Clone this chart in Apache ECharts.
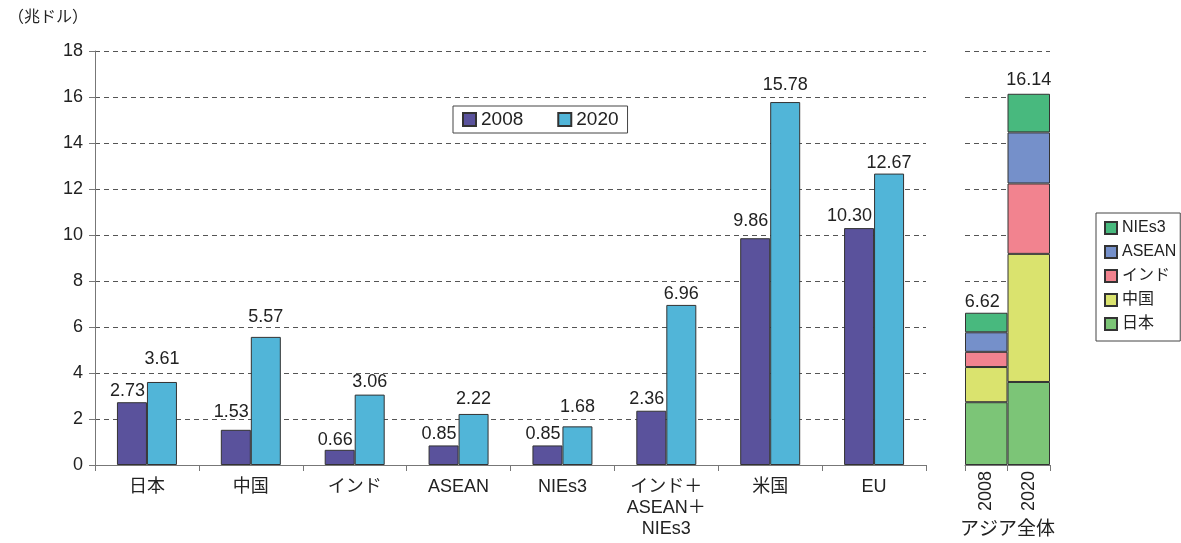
<!DOCTYPE html>
<html><head><meta charset="utf-8">
<script src="https://cdn.jsdelivr.net/npm/echarts@6/dist/echarts.min.js"></script>
<style>html,body{margin:0;padding:0;background:#fff}#c{width:1181px;height:543px}</style>
</head><body><div id="c"></div>
<script>
const categories = ['日本', '中国', 'インド', 'ASEAN', 'NIEs3', 'インド＋\nASEAN＋\nNIEs3', '米国', 'EU'];
const values2008 = [2.73, 1.53, 0.66, 0.85, 0.85, 2.36, 9.86, 10.30];
const values2020 = [3.61, 5.57, 3.06, 2.22, 1.68, 6.96, 15.78, 12.67];
const asiaCategories = ['2008', '2020'];
const asiaJapan = [2.73, 3.61];
const asiaChina = [1.53, 5.57];
const asiaIndia = [0.66, 3.06];
const asiaASEAN = [0.85, 2.22];
const asiaNIEs = [0.85, 1.68];
const asiaTotals = [6.62, 16.14];
const yTicks = [0, 2, 4, 6, 8, 10, 12, 14, 16, 18];

// label gap styling (pixels above bar top), matching the reference's hand-placed labels
const labelGap2008 = [2, 9, 1, 2, 2, 3, 8, 3];
const labelGap2020 = [14, 11, 4, 6, 10, 2, 8, 2];
const asiaLabelGap = [2, 5];

const FONT = '"Liberation Sans", Arial, "Noto Sans CJK JP", sans-serif';
const chart = echarts.init(document.getElementById('c'));

const withGaps = (vals, gaps) => vals.map((v, i) => ({ value: v, label: { distance: gaps[i] } }));

const lblBase = {
  show: true, position: 'top', fontSize: 18, color: '#222', fontFamily: FONT,
  formatter: p => p.value.toFixed(2)
};
const stackSeries = (name, data, color, top) => ({
  name, type: 'bar', stack: 'asia', xAxisIndex: 1, yAxisIndex: 1,
  data: top ? data.map((v, i) => ({ value: v, label: { distance: asiaLabelGap[i], offset: [i === 0 ? -4 : 0, 0] } })) : data,
  barCategoryGap: 0, barGap: 0,
  itemStyle: { color, borderColor: '#333', borderWidth: 1 },
  label: top ? {
    show: true, position: 'top', fontSize: 18, color: '#222', fontFamily: FONT,
    formatter: p => asiaTotals[p.dataIndex].toFixed(2)
  } : { show: false }
});
chart.setOption({
  animation: false,
  textStyle: { fontFamily: FONT },
  graphic: [{ type: 'text', left: 8, top: 10, style: { text: '（兆ドル）', fontSize: 16, fill: '#222', fontFamily: FONT } }],
  legend: [
    { data: ['2008', '2020'], left: 453, top: 106, orient: 'horizontal', icon: 'rect',
      itemWidth: 13, itemHeight: 13, itemGap: 34, borderColor: '#444', borderWidth: 1, padding: [4, 9, 4, 9],
      textStyle: { fontSize: 19, color: '#222', fontFamily: FONT } },
    { data: ['NIEs3', 'ASEAN', 'インド', '中国', '日本'], left: 1096, top: 213, orient: 'vertical', icon: 'rect',
      itemWidth: 12, itemHeight: 12, itemGap: 8, borderColor: '#444', borderWidth: 1, padding: [7, 4, 9, 8],
      textStyle: { fontSize: 16, color: '#222', fontFamily: FONT } }
  ],
  grid: [
    { left: 95, top: 51, width: 831, height: 414, outerBoundsMode: 'none', containLabel: false },
    { left: 965, top: 51, width: 85, height: 414, outerBoundsMode: 'none', containLabel: false }
  ],
  xAxis: [
    { type: 'category', gridIndex: 0, data: categories,
      axisLine: { lineStyle: { color: '#777' } }, axisTick: { show: true, length: 6, lineStyle: { color: '#777' } },
      axisLabel: { fontSize: 18, color: '#222', margin: 12, lineHeight: 21, interval: 0, fontFamily: FONT } },
    { type: 'category', gridIndex: 1, data: asiaCategories,
      axisLine: { lineStyle: { color: '#777' } }, axisTick: { show: true, length: 6, lineStyle: { color: '#777' } },
      axisLabel: { fontSize: 18, color: '#222', rotate: 90, margin: 6, interval: 0, fontFamily: FONT },
      name: 'アジア全体', nameLocation: 'middle', nameGap: 55,
      nameTextStyle: { fontSize: 19, color: '#222', fontFamily: FONT } }
  ],
  yAxis: [
    { type: 'value', gridIndex: 0, min: 0, max: 18, interval: 2,
      axisLine: { show: true, lineStyle: { color: '#777' } },
      axisTick: { show: true, length: 6, lineStyle: { color: '#777' } },
      axisLabel: { fontSize: 18, color: '#222', margin: 12, fontFamily: FONT,
        formatter: v => yTicks.includes(v) ? String(v) : '' },
      splitLine: { show: true, lineStyle: { color: '#555', type: [5, 4], width: 1 } } },
    { type: 'value', gridIndex: 1, min: 0, max: 18, interval: 2,
      axisLine: { show: false }, axisTick: { show: false }, axisLabel: { show: false },
      splitLine: { show: true, lineStyle: { color: '#555', type: [5, 4], width: 1 } } }
  ],
  series: [
    { name: '2008', type: 'bar', xAxisIndex: 0, yAxisIndex: 0, data: withGaps(values2008, labelGap2008),
      barWidth: 30, barGap: 0,
      itemStyle: { color: '#5a529c', borderColor: '#333', borderWidth: 1 },
      label: Object.assign({}, lblBase, { align: 'right', offset: [13, 0] }) },
    { name: '2020', type: 'bar', xAxisIndex: 0, yAxisIndex: 0, data: withGaps(values2020, labelGap2020),
      barWidth: 30, barGap: 0,
      itemStyle: { color: '#51b5d8', borderColor: '#333', borderWidth: 1 }, label: lblBase },
    stackSeries('日本', asiaJapan, '#7cc577', false),
    stackSeries('中国', asiaChina, '#dae36e', false),
    stackSeries('インド', asiaIndia, '#f2838f', false),
    stackSeries('ASEAN', asiaASEAN, '#7590ca', false),
    stackSeries('NIEs3', asiaNIEs, '#48b97e', true)
  ]
});
</script></body></html>
